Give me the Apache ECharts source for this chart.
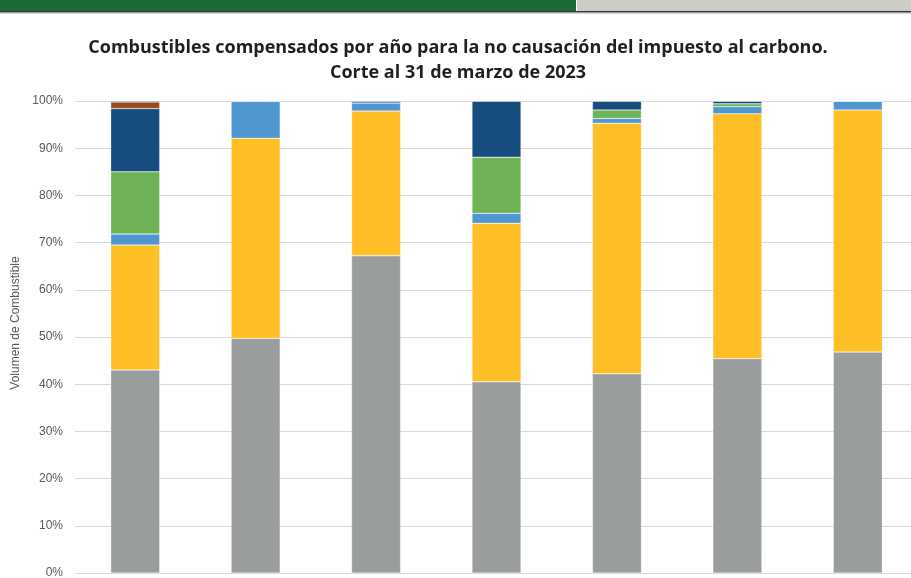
<!DOCTYPE html>
<html>
<head>
<meta charset="utf-8">
<script src="https://cdn.jsdelivr.net/npm/echarts@6/dist/echarts.min.js"></script>
<style>html,body{margin:0;padding:0;background:#fff;}#c{width:911px;height:578px;}</style>
</head>
<body>
<div id="c"></div>
<script>
const categories = ['2017', '2018', '2019', '2020', '2021', '2022', '2023'];
const seriesNames = ['Gas natural', 'ACPM', 'Gasolina', 'Jet fuel', 'Queroseno', 'Fuel oil', 'Otros'];
const gasNatural = [43.0, 49.7, 67.2, 40.5, 42.2, 45.4, 46.8];
const acpm       = [26.5, 42.4, 30.7, 33.6, 53.1, 51.9, 51.3];
const gasolina   = [2.3, 7.9, 1.7, 2.1, 1.0, 1.5, 1.9];
const jetFuel    = [13.2, 0, 0, 11.9, 1.8, 0.6, 0];
const queroseno  = [13.4, 0, 0.4, 11.9, 1.9, 0.6, 0];
const fuelOil    = [1.4, 0, 0, 0, 0, 0, 0];
const otros      = [0.2, 0, 0, 0, 0, 0, 0];
const yTicks = [0, 10, 20, 30, 40, 50, 60, 70, 80, 90, 100];

const colors = ['#9A9D9E', '#FEBE26', '#4F97D1', '#70B257', '#174C7E', '#9B4A1E', '#3A62A0'];
const dataList = [gasNatural, acpm, gasolina, jetFuel, queroseno, fuelOil, otros];

const chart = echarts.init(document.getElementById('c'));
chart.setOption({
  animation: false,
  backgroundColor: '#fff',
  title: {
    text: 'Combustibles compensados por año para la no causación del impuesto al carbono.\nCorte al 31 de marzo de 2023',
    left: 453, textAlign: 'center', top: 30,
    textStyle: { fontFamily: 'Open Sans', fontWeight: 'bold', fontSize: 18, color: '#231F20', lineHeight: 25 }
  },
  graphic: [
    { type: 'rect', shape: { x: 0, y: 0, width: 576, height: 11 }, style: { fill: '#186A37' } },
    { type: 'rect', shape: { x: 577, y: 0, width: 334, height: 11 }, style: { fill: '#CBCCC4' } },
    { type: 'rect', shape: { x: 0, y: 11, width: 911, height: 1.5 }, style: { fill: '#333' } },
    { type: 'rect', shape: { x: 0, y: 12.5, width: 911, height: 1 }, style: { fill: '#AAA' } }
  ],
  grid: { left: 75, width: 843, top: 101, bottom: 5, containLabel: false, outerBoundsMode: 'none' },
  xAxis: {
    type: 'category', data: categories,
    axisLine: { show: true, lineStyle: { color: '#D9D9D9' } },
    axisTick: { show: false },
    axisLabel: { show: true, color: '#595959', fontSize: 12 }
  },
  yAxis: {
    type: 'value', min: 0, max: 100, interval: 10,
    name: 'Volumen de Combustible', nameLocation: 'middle', nameGap: 51,
    nameTextStyle: { color: '#595959', fontSize: 12, fontFamily: 'Liberation Sans', padding: [0, 0, 0, 28] },
    axisLabel: { formatter: v => yTicks.includes(v) ? v + '%' : '', color: '#595959', fontSize: 12, fontFamily: 'Liberation Sans', margin: 12 },
    axisLine: { show: false }, axisTick: { show: false },
    splitLine: { lineStyle: { color: '#D9D9D9', width: 1 } }
  },
  series: seriesNames.map((n, i) => ({
    name: n, type: 'bar', stack: 'total', data: dataList[i], barWidth: 49,
    itemStyle: { color: colors[i], borderColor: 'rgba(255,255,255,0.6)', borderWidth: 0.5 }
  }))
});
</script>
</body>
</html>
